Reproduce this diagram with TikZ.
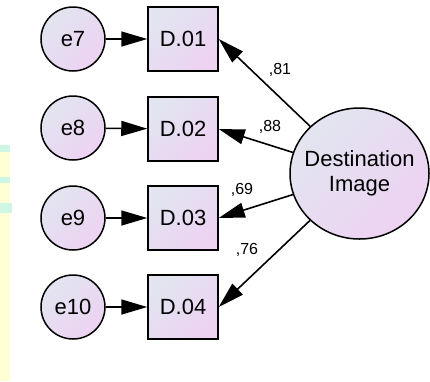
\documentclass[tikz,border=0pt]{standalone}
\usepackage{fontspec}
\setmainfont{Liberation Sans}
\usetikzlibrary{arrows.meta,shapes.geometric}
\definecolor{FillTop}{RGB}{226,229,240}
\definecolor{FillBot}{RGB}{237,210,242}
\definecolor{StripYellow}{RGB}{255,255,212}
\definecolor{StripCyan}{RGB}{205,247,228}

\begin{document}
\begin{tikzpicture}[x=1pt, y=-1pt, >={Triangle[length=26pt,width=15pt]},
  font=\fontsize{22}{25}\selectfont,
  err/.style={circle, draw, line width=1.5pt, minimum size=64pt, inner sep=0pt,
              top color=FillTop, bottom color=FillBot, shading angle=45},
  obs/.style={rectangle, draw, line width=1.5pt, minimum width=70pt, minimum height=64pt,
              inner sep=0pt, top color=FillTop, bottom color=FillBot, shading angle=45},
  lat/.style={ellipse, draw, line width=1.5pt, minimum width=139pt, minimum height=131pt,
              inner sep=-8pt, align=center, top color=FillTop, bottom color=FillBot, shading angle=45},
  coef/.style={font=\fontsize{16}{18}\selectfont, inner sep=0pt},
  path/.style={->, line width=1.6pt}]
  \useasboundingbox (0,0) rectangle (430,381);
  % strip on the left edge
  \fill[StripYellow] (0,145) rectangle (10,381);
  \fill[StripCyan] (0,145) rectangle (10,152);
  \fill[StripCyan] (0,177) rectangle (10,183);
  \fill[StripCyan] (0,203) rectangle (12,213);

  \node[err] (e7)  at (73,39)  {e7};
  \node[err] (e8)  at (73,128) {e8};
  \node[err] (e9)  at (73,218) {e9};
  \node[err] (e10) at (73,307) {e10};

  \node[obs] (d1) at (183,39)  {D.01};
  \node[obs] (d2) at (183,129) {D.02};
  \node[obs] (d3) at (183,218) {D.03};
  \node[obs] (d4) at (183,307) {D.04};

  \node[lat] (di) at (359.5,173.5) {Destination\\Image};

  \foreach \e/\d in {e7/d1, e8/d2, e9/d3, e10/d4}
    \draw[path] (\e) -- (\d);
  \foreach \d in {d1,d2,d3,d4}
    \draw[path] (di) -- (\d.east);

  \node[coef] (w1) at (280,70)  {,81};
  \node[coef] (w2) at (270,127) {,88};
  \node[coef] (w3) at (242,190) {,69};
  \node[coef] (w4) at (247,250) {,76};
\end{tikzpicture}
\end{document}
